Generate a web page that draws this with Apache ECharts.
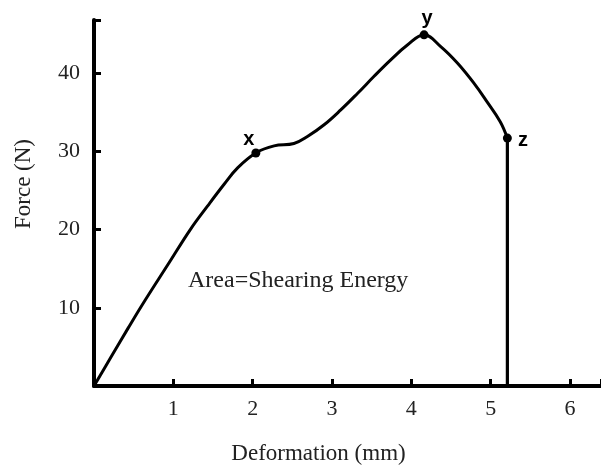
<!DOCTYPE html>
<html>
<head>
<meta charset="utf-8">
<script src="https://cdn.jsdelivr.net/npm/echarts@6/dist/echarts.min.js"></script>
<style>html,body{margin:0;padding:0;background:#fff;}#c{width:601px;height:466px;}</style>
</head>
<body>
<div id="c"></div>
<script>
// Deformation (mm) and Force (N)
var curveX = [0, 0.22, 0.43, 0.64, 0.93, 1.22, 1.43, 1.64, 1.81, 2.04, 2.27, 2.52, 2.69, 2.90, 3.11, 3.32, 3.53, 3.74, 3.95, 4.16, 4.37, 4.58, 4.79, 4.95, 5.12, 5.21];
var curveY = [0, 3.8, 7.4, 10.9, 15.5, 20.1, 23.0, 25.8, 27.9, 29.8, 30.7, 31.0, 31.9, 33.4, 35.3, 37.4, 39.6, 41.7, 43.6, 44.9, 43.4, 41.3, 38.7, 36.4, 33.8, 31.7];
// failure drop
var dropX = [5.21, 5.21];
var dropY = [31.7, 0];
// key points
var keyNames = ['x', 'y', 'z'];
var keyX = [2.04, 4.16, 5.21];
var keyY = [29.8, 44.9, 31.7];
var xTicks = [1, 2, 3, 4, 5, 6];
var yTicks = [10, 20, 30, 40];

function pairs(a, b) { return a.map(function (v, i) { return [v, b[i]]; }); }

var chart = echarts.init(document.getElementById('c'));
var serif = '"Liberation Serif", "Times New Roman", serif';
var offs = [[-7, 6], [3, 3], [1, 2]];
chart.setOption({
  animation: false,
  backgroundColor: '#fff',
  grid: { left: 94, right: 0, top: 20, bottom: 80, containLabel: false, outerBoundsMode: 'none' },
  xAxis: {
    type: 'value', min: 0, max: 6.39, interval: 1,
    name: 'Deformation (mm)', nameLocation: 'middle', nameGap: 56,
    nameTextStyle: { fontFamily: serif, fontSize: 23, color: '#222', padding: [0, 58, 0, 0] },
    axisLine: { lineStyle: { color: '#000', width: 4 } },
    axisTick: { inside: true, length: 7, lineStyle: { color: '#000', width: 3 } },
    axisLabel: { fontFamily: serif, fontSize: 22, color: '#222', margin: 12,
      formatter: function (v) { return xTicks.indexOf(v) >= 0 ? String(v) : ''; } },
    splitLine: { show: false }
  },
  yAxis: {
    type: 'value', min: 0, max: 46.8, interval: 10,
    name: 'Force (N)', nameLocation: 'middle', nameGap: 59,
    nameTextStyle: { fontFamily: serif, fontSize: 23, color: '#222', padding: [0, 0, 0, 38] },
    axisLine: { lineStyle: { color: '#000', width: 4 } },
    axisTick: { inside: true, length: 7, lineStyle: { color: '#000', width: 3 } },
    axisLabel: { fontFamily: serif, fontSize: 22, color: '#222', margin: 14,
      formatter: function (v) { return yTicks.indexOf(v) >= 0 ? String(v) : ''; } },
    splitLine: { show: false }
  },
  graphic: [{
    type: 'text', left: 188, top: 269,
    style: { text: 'Area=Shearing Energy', font: '24px ' + serif, fill: '#222' }
  }],
  series: [
    { type: 'line', data: pairs(curveX, curveY), smooth: 0.4, showSymbol: false,
      lineStyle: { color: '#000', width: 3 } },
    { type: 'line', data: pairs(dropX, dropY), showSymbol: false,
      lineStyle: { color: '#000', width: 3.2 } },
    { type: 'scatter', symbolSize: 9, itemStyle: { color: '#000', opacity: 1 },
      data: keyNames.map(function (n, i) {
        return { value: [keyX[i], keyY[i]], name: n,
          label: { show: true, formatter: n, position: i === 2 ? 'right' : 'top',
            offset: offs[i],
            fontFamily: '"Liberation Sans", Arial, sans-serif', fontWeight: 'bold', fontSize: 20, color: '#000' } };
      }) }
  ]
});
</script>
</body>
</html>
